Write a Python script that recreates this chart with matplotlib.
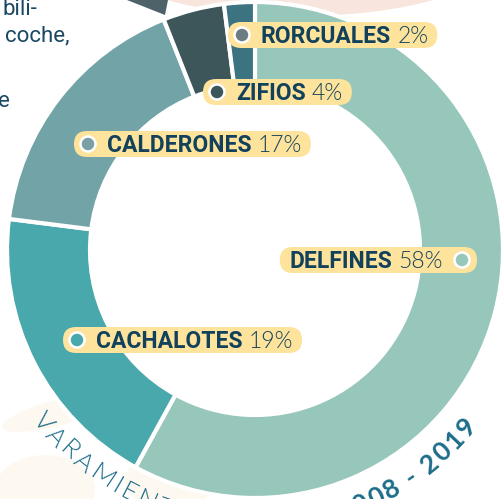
import matplotlib.pyplot as plt
from matplotlib.patches import FancyBboxPatch, Ellipse, Polygon, Circle
from matplotlib.font_manager import FontProperties
import numpy as np

species = ["DELFINES", "CACHALOTES", "CALDERONES", "ZIFIOS", "RORCUALES"]
shares = [58, 19, 17, 4, 2]
ring_colors = ["#97c6bb", "#49a8ac", "#72a3a7", "#3d565a", "#3b7381"]
dot_colors = ["#97c6bb", "#49a8ac", "#79a1a5", "#3d565a", "#6b7d80"]
# dot x, pill centre y, dot side
label_pos = {
    "DELFINES": (462, 260, "right"),
    "CACHALOTES": (77, 340, "left"),
    "CALDERONES": (88, 144, "left"),
    "ZIFIOS": (217, 92, "left"),
    "RORCUALES": (242, 35, "left"),
}
arc_left = "VARAMIENTOS"
arc_right = "2008 - 2019"

navy = "#12415b"
teal_txt = "#1d6d8a"
pill = "#fde39c"

fig = plt.figure(figsize=(5.03, 4.99), dpi=100)
ax = fig.add_axes([0, 0, 1, 1])
renderer = fig.canvas.get_renderer()

# background shapes
ax.add_patch(Ellipse((300, -40), 380, 112, color="#f8e6de", zorder=0, lw=0))
ax.add_patch(Polygon([(127, 0), (168, 0), (165, 15)], color="#4e626a", zorder=0, lw=0))
ax.add_patch(Ellipse((45, 490), 100, 70, color="#fef9f0", zorder=0, lw=0))
ax.add_patch(Ellipse((170, 480), 90, 60, color="#fef9f0", zorder=0, lw=0))
ax.add_patch(Ellipse((60, 412), 120, 26, angle=-15, color="#fef9f0", zorder=0, lw=0))

cx, cy = 255, 250
ax.pie(shares, colors=ring_colors, radius=248, center=(cx, cy), startangle=270,
       counterclock=True, wedgeprops=dict(width=83, edgecolor="white", linewidth=3))

# partial paragraph at top left
body = FontProperties(family="Roboto", size=16)
ax.text(3, 15, "bili-", fontproperties=body, color="#1a4863", va="baseline")
ax.text(5, 41, "coche,", fontproperties=body, color="#1a4863", va="baseline")
ax.text(-2, 107, "e", fontproperties=body, color="#1a4863", va="baseline")


def width_px(s, fp):
    return renderer.get_text_width_height_descent(s, fp, ismath=False)[0]


# pill labels
name_fp = FontProperties(family="Roboto", weight="bold", size=16.5)
pct_fp = FontProperties(family="Lato", weight=300, size=16.5)
for name, share, dcol in zip(species, shares, dot_colors):
    dx, yc, side = label_pos[name]
    pct = f"{share}%"
    wn = width_px(name, name_fp)
    wp = width_px(pct, pct_fp)
    total = wn + 6 + wp
    if side == "left":
        tx = dx + 19
        x0, x1 = dx - 14, tx + total + 9
    else:
        tx = dx - 19 - total
        x0, x1 = tx - 10, dx + 15
    ax.add_patch(FancyBboxPatch((x0, yc - 13), x1 - x0, 26,
                                boxstyle="round,pad=0,rounding_size=13",
                                color=pill, lw=0, zorder=4))
    ax.add_patch(Circle((dx, yc), 7.5, facecolor=dcol, edgecolor="white", lw=1.8, zorder=5))
    ax.text(tx, yc + 7.5, name, fontproperties=name_fp, color=navy, va="baseline", zorder=6)
    ax.text(tx + wn + 6, yc + 7.5, pct, fontproperties=pct_fp, color=navy, va="baseline", zorder=6)


# curved title along the bottom of the ring
def char_centres(s, fp, track):
    base = width_px("I", fp)
    edges = [0.0] + [width_px(s[:i] + "I", fp) - base + i * track for i in range(1, len(s) + 1)]
    return [(edges[i] + edges[i + 1] - track) / 2 for i in range(len(s))]


def arc_text(s, fp, radius, phi_anchor, anchor_first=True, track=0.0):
    centres = char_centres(s, fp, track)
    ref = centres[0] if anchor_first else centres[-1]
    for ch, c in zip(s, centres):
        phi = phi_anchor + np.degrees((c - ref) / radius)
        x = cx + radius * np.cos(np.radians(phi))
        y = cy - radius * np.sin(np.radians(phi))
        ax.text(x, y, ch, fontproperties=fp, color=teal_txt, rotation=phi + 90,
                rotation_mode="anchor", ha="center", va="center", zorder=3)


arc_text(arc_left, FontProperties(family="Lato", weight=300, size=19), 274, 219.0, True, 2.5)
arc_text(arc_right, FontProperties(family="Lato", weight="bold", size=19), 276, 320.0, False, 2.0)

ax.set_xlim(0, 503)
ax.set_ylim(499, 0)
ax.set_aspect("equal")
ax.axis("off")
fig.savefig("out.png", dpi=100)
